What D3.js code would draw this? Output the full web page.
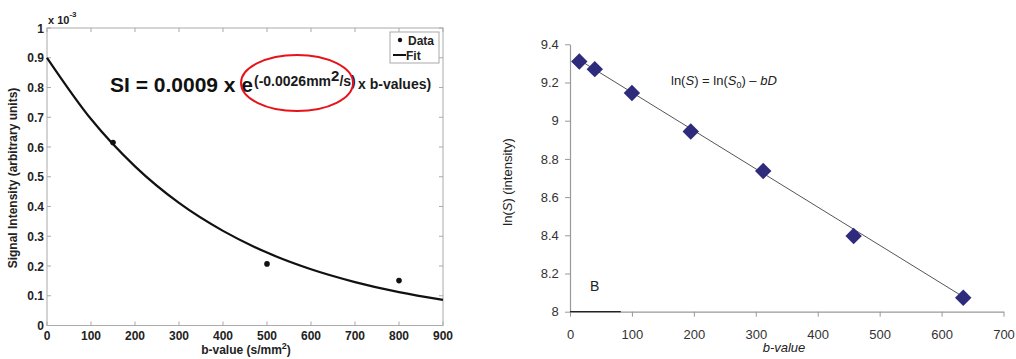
<!DOCTYPE html>
<html>
<head>
<meta charset="utf-8">
<script src="https://cdn.jsdelivr.net/npm/d3@7"></script>
<style>
  body { margin: 0; background: #fff; }
  svg { display: block; font-family: Arial, "Liberation Sans", sans-serif; }
</style>
</head>
<body>
<svg width="1016" height="359"></svg>
<script>
// left panel: signal vs b-value
const bData = [150, 500, 800];
const siData = [0.615, 0.207, 0.151];          // x 10^-3
const bFit = [0, 100, 200, 300, 400, 500, 600, 700, 800, 900];
const siFit = [0.9, 0.694, 0.535, 0.412, 0.318, 0.245, 0.189, 0.146, 0.112, 0.086];
const leftXTicks = [0, 100, 200, 300, 400, 500, 600, 700, 800, 900];
const leftYTicks = [0, 0.1, 0.2, 0.3, 0.4, 0.5, 0.6, 0.7, 0.8, 0.9, 1];

// right panel: ln(S) vs b-value
const bPts = [15, 40, 100, 195, 312, 458, 635];
const lnS = [9.31, 9.27, 9.145, 8.943, 8.737, 8.396, 8.073];
const bLine = [15, 635];
const lnLine = [9.318, 8.078];
const rightXTicks = [0, 100, 200, 300, 400, 500, 600, 700];
const rightYTicks = [8, 8.2, 8.4, 8.6, 8.8, 9, 9.2, 9.4];

const svg = d3.select("svg");

function draw_left() {
	const x = d3.scaleLinear().domain([0, 900]).range([47, 443]);
	const y = d3.scaleLinear().domain([0, 1]).range([325.5, 28]);
	const g = svg.append("g");
	const tickLen = 4;

	// frame
	g.append("rect")
		.attr("x", x(0)).attr("y", y(1))
		.attr("width", x(900) - x(0)).attr("height", y(0) - y(1))
		.attr("fill", "none").attr("stroke", "#aaa").attr("stroke-width", 1);

	// inward ticks on all sides
	leftXTicks.forEach((t) => {
		g.append("line").attr("x1", x(t)).attr("x2", x(t)).attr("y1", y(0)).attr("y2", y(0) - tickLen).attr("stroke", "#aaa");
		g.append("line").attr("x1", x(t)).attr("x2", x(t)).attr("y1", y(1)).attr("y2", y(1) + tickLen).attr("stroke", "#aaa");
		g.append("text").attr("x", x(t)).attr("y", 340)
			.attr("text-anchor", "middle").attr("font-size", 12).attr("font-weight", "bold").attr("fill", "#222")
			.text(t);
	});
	leftYTicks.forEach((t) => {
		g.append("line").attr("x1", x(0)).attr("x2", x(0) + tickLen).attr("y1", y(t)).attr("y2", y(t)).attr("stroke", "#aaa");
		g.append("line").attr("x1", x(900)).attr("x2", x(900) - tickLen).attr("y1", y(t)).attr("y2", y(t)).attr("stroke", "#aaa");
		g.append("text").attr("x", 44).attr("y", y(t) + 4.5)
			.attr("text-anchor", "end").attr("font-size", 12).attr("font-weight", "bold").attr("fill", "#222")
			.text(t == 0 ? "0" : (t == 1 ? "1" : t.toFixed(1)));
	});

	// exponent label
	const ex = g.append("text").attr("x", 48).attr("y", 24).attr("font-size", 11).attr("font-weight", "bold").attr("fill", "#222");
	ex.append("tspan").text("x 10");
	ex.append("tspan").attr("dy", -7).attr("font-size", 8).text("-3");

	// fit curve
	const line = d3.line()
		.x((d, i) => x(bFit[i]))
		.y((d) => y(d))
		.curve(d3.curveMonotoneX);
	g.append("path").datum(siFit)
		.attr("d", line).attr("fill", "none").attr("stroke", "#111").attr("stroke-width", 2.2);

	// data points
	g.selectAll(".dot").data(siData).enter().append("circle")
		.attr("cx", (d, i) => x(bData[i])).attr("cy", (d) => y(d))
		.attr("r", 2.8).attr("fill", "#111");

	// legend
	g.append("rect").attr("x", 390).attr("y", 32).attr("width", 49).attr("height", 31)
		.attr("fill", "#fff").attr("stroke", "#aaa");
	g.append("circle").attr("cx", 400).attr("cy", 40).attr("r", 2.2).attr("fill", "#111");
	g.append("text").attr("x", 408).attr("y", 44.5).attr("font-size", 12).attr("font-weight", "bold").attr("fill", "#222").text("Data");
	g.append("line").attr("x1", 393).attr("x2", 406).attr("y1", 55).attr("y2", 55).attr("stroke", "#111").attr("stroke-width", 2);
	g.append("text").attr("x", 406).attr("y", 59.5).attr("font-size", 12).attr("font-weight", "bold").attr("fill", "#222").text("Fit");

	// equation
	g.append("text").attr("x", 110).attr("y", 92).attr("font-size", 21).attr("font-weight", "bold").attr("fill", "#111")
		.text("SI = 0.0009 x e");
	const sup = g.append("text").attr("font-size", 14).attr("fill", "#1a1a1a").attr("font-weight", 600);
	sup.append("tspan").attr("x", 254).attr("y", 86).text("(-0.0026mm");
	sup.append("tspan").attr("y", 81).attr("font-size", 15).text("2");
	sup.append("tspan").attr("y", 86).text("/s)");
	sup.append("tspan").attr("x", 358).attr("y", 89).text("x b-values)");

	g.append("ellipse").attr("cx", 297).attr("cy", 83).attr("rx", 56).attr("ry", 28)
		.attr("fill", "none").attr("stroke", "#e8131a").attr("stroke-width", 2);

	// axis titles
	const xt = g.append("text").attr("x", 246).attr("y", 354).attr("text-anchor", "middle")
		.attr("font-size", 12).attr("font-weight", "bold").attr("fill", "#222");
	xt.append("tspan").text("b-value (s/mm");
	xt.append("tspan").attr("dy", -5).attr("font-size", 9).text("2");
	xt.append("tspan").attr("dy", 5).text(")");

	g.append("text").attr("transform", "translate(17,178) rotate(-90)").attr("text-anchor", "middle")
		.attr("font-size", 12).attr("font-weight", "bold").attr("fill", "#222")
		.text("Signal Intensity (arbitrary units)");
}

function draw_right() {
	const x = d3.scaleLinear().domain([0, 700]).range([570, 1003.5]);
	const y = d3.scaleLinear().domain([8, 9.4]).range([311.7, 44.3]);
	const g = svg.append("g");

	const xAxis = d3.axisBottom(x).tickValues(rightXTicks).tickSize(5).tickSizeOuter(0).tickFormat(d3.format("d"));
	const yAxis = d3.axisLeft(y).tickValues(rightYTicks).tickSize(5).tickSizeOuter(0)
		.tickFormat((d) => (d % 1 == 0 ? d3.format("d")(d) : d.toFixed(1)));

	const gx = g.append("g").attr("transform", "translate(0," + y(8) + ")").call(xAxis);
	const gy = g.append("g").attr("transform", "translate(" + x(0) + ",0)").call(yAxis);
	[gx, gy].forEach((a) => {
		a.select(".domain").attr("stroke", "#999").attr("stroke-width", 1.2);
		a.selectAll(".tick line").attr("stroke", "#999");
		a.selectAll(".tick text").attr("font-size", 13).attr("fill", "#333").attr("font-family", "Arial, 'Liberation Sans', sans-serif");
	});
	gx.selectAll(".tick text").attr("dy", "1.45em");
	gy.selectAll(".tick text").attr("dx", "-0.25em");

	// dark bit on the base line
	g.append("line").attr("x1", x(0)).attr("x2", x(82)).attr("y1", y(8)).attr("y2", y(8))
		.attr("stroke", "#222").attr("stroke-width", 1.2);

	// fit line
	g.append("path").datum(lnLine)
		.attr("d", d3.line().x((d, i) => x(bLine[i])).y((d) => y(d)))
		.attr("fill", "none").attr("stroke", "#555").attr("stroke-width", 1);

	// diamonds
	const sym = d3.symbol().type(d3.symbolSquare).size(135);
	g.selectAll(".diamond").data(lnS).enter().append("path")
		.attr("d", sym)
		.attr("transform", (d, i) => "translate(" + x(bPts[i]) + "," + y(d) + ") rotate(45)")
		.attr("fill", "#2e2a7c");

	// equation
	const eq = g.append("text").attr("x", 671).attr("y", 85).attr("font-size", 13).attr("fill", "#222");
	eq.append("tspan").text("ln(");
	eq.append("tspan").attr("font-style", "italic").text("S");
	eq.append("tspan").text(") = ln(");
	eq.append("tspan").attr("font-style", "italic").text("S");
	eq.append("tspan").attr("dy", 3).attr("font-size", 9).text("0");
	eq.append("tspan").attr("dy", -3).text(") \u2013 ");
	eq.append("tspan").attr("font-style", "italic").text("bD");

	g.append("text").attr("x", 590).attr("y", 291).attr("font-size", 14).attr("fill", "#222").text("B");

	g.append("text").attr("x", 784).attr("y", 352).attr("text-anchor", "middle")
		.attr("font-size", 13).attr("font-style", "italic").attr("fill", "#222").text("b-value");

	const yt = g.append("text").attr("transform", "translate(512,182) rotate(-90)").attr("text-anchor", "middle")
		.attr("font-size", 13).attr("fill", "#222");
	yt.append("tspan").text("ln(");
	yt.append("tspan").attr("font-style", "italic").text("S");
	yt.append("tspan").text(") (intensity)");
}

draw_left();
draw_right();
</script>
</body>
</html>
